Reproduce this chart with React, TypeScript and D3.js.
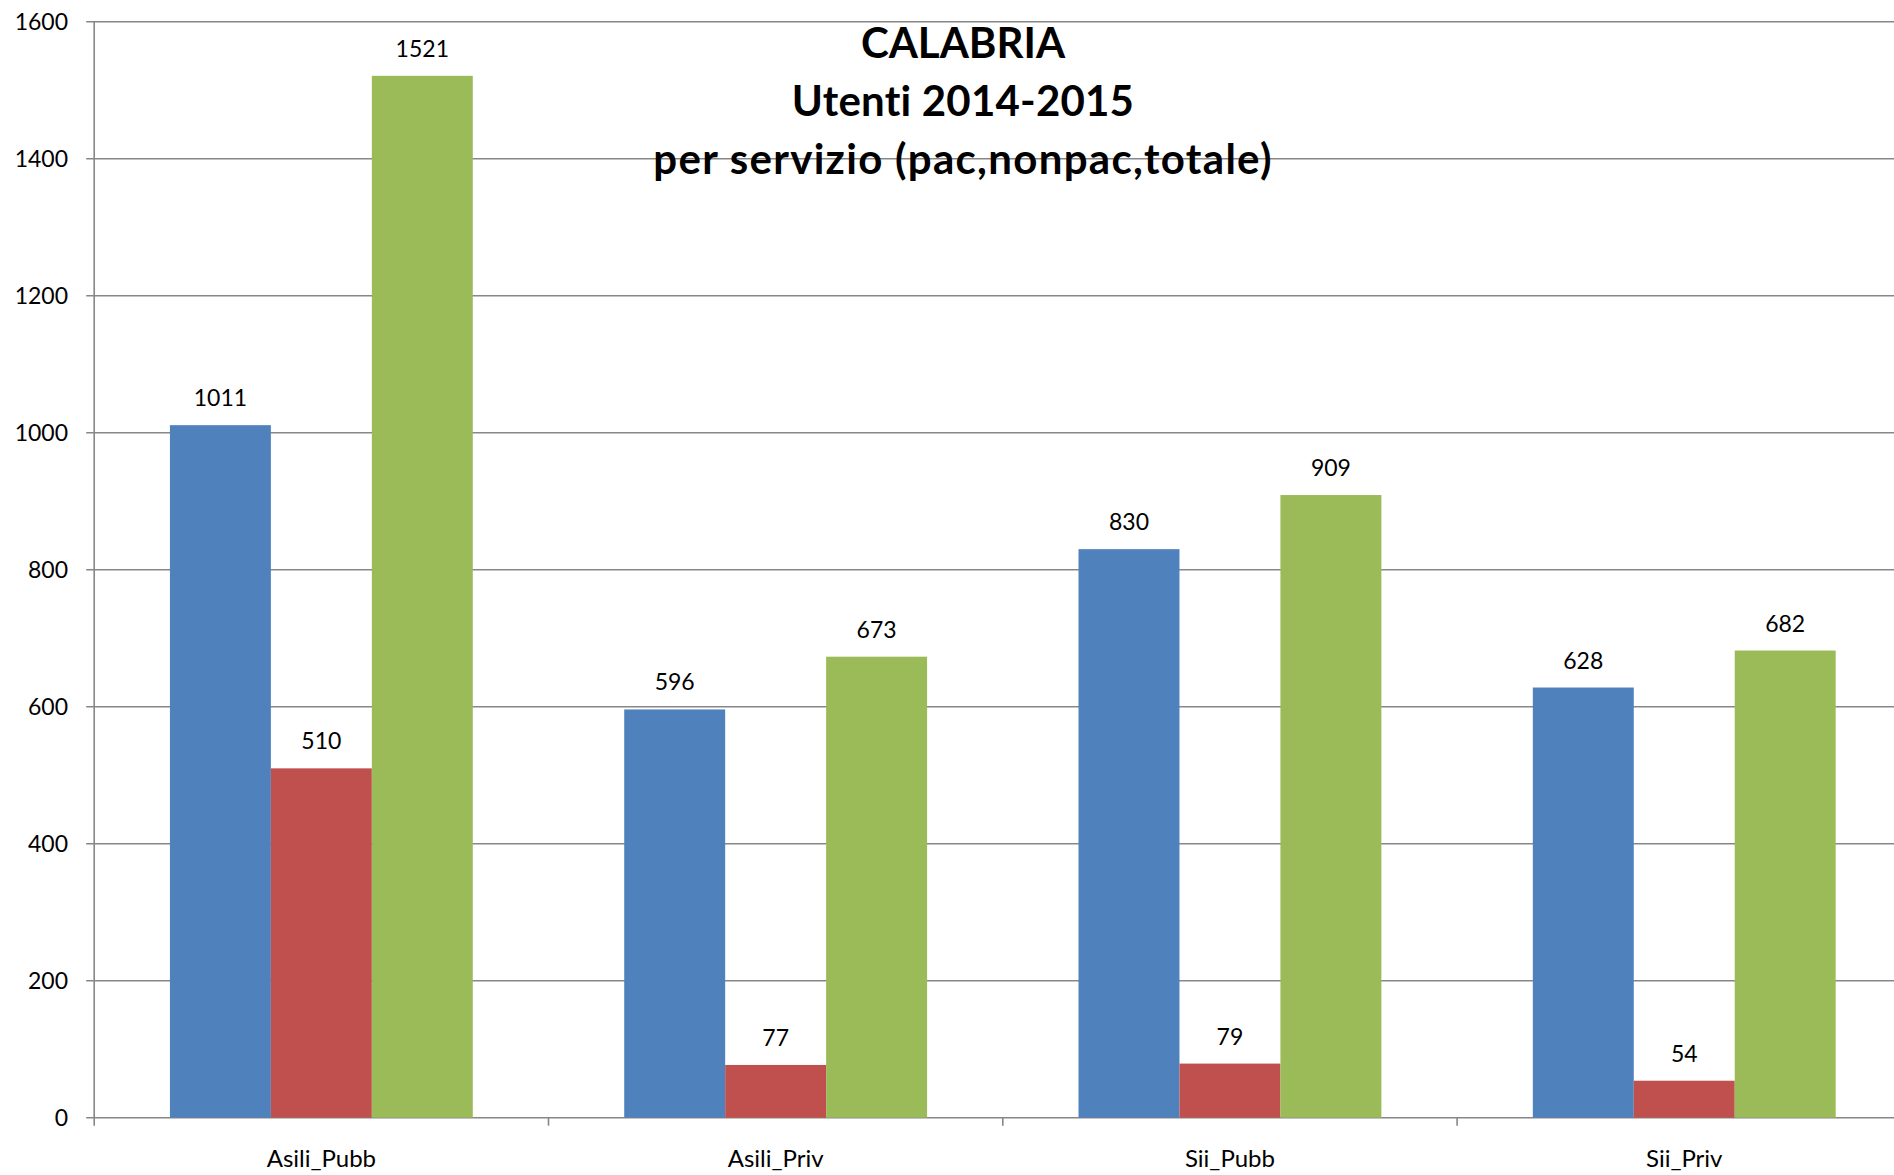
import React from "react";
import * as d3 from "d3";

const categories = ["Asili_Pubb", "Asili_Priv", "Sii_Pubb", "Sii_Priv"];
const seriesNames = ["pac", "nonpac", "totale"];
const pacValues = [1011, 596, 830, 628];
const nonpacValues = [510, 77, 79, 54];
const totaleValues = [1521, 673, 909, 682];
const yTicks = [0, 200, 400, 600, 800, 1000, 1200, 1400, 1600];
const titleLines = ["CALABRIA", "Utenti 2014-2015", "per servizio (pac,nonpac,totale)"];
const colors = ["#4F81BD", "#C0504D", "#9BBB59"];

export default function App() {
  const W = 1894, H = 1175;
  const left = 94.2, top = 21.7, bottom = 1117.7;
  const bandW = 454.3;
  const y = d3.scaleLinear().domain([0, 1600]).range([bottom, top]);
  const x = d3.scaleBand().domain(categories).range([left, left + bandW * categories.length]).padding(0);
  const xs = d3.scaleBand().domain(seriesNames).range([0, x.bandwidth()]).paddingInner(0).paddingOuter(0.75);
  const series = [pacValues, nonpacValues, totaleValues];
  const font = "Lato, 'Open Sans', sans-serif";
  const grid = "#878787";
  const titleSpacing = [0, 0.2, 1.3];
  return (
    <svg width={W} height={H} style={{ position: "absolute", left: 0, top: 0, background: "#fff" }} fontFamily={font}>
      {yTicks.map((t) => (
        <g key={t}>
          <line x1={left - 8} x2={W} y1={y(t)} y2={y(t)} stroke={grid} strokeWidth={1.6} />
          <text x={68} y={y(t)} dy="0.36em" textAnchor="end" fontSize={23} fill="#000">{t}</text>
        </g>
      ))}
      <line x1={left} x2={left} y1={top} y2={bottom} stroke={grid} strokeWidth={1.6} />
      {categories.map((c) => (
        <line key={"tk" + c} x1={x(c)!} x2={x(c)!} y1={bottom} y2={bottom + 8} stroke={grid} strokeWidth={1.6} />
      ))}
      {series.map((vals, si) =>
        vals.map((v, ci) => {
          const cx = x(categories[ci])! + xs(seriesNames[si])!;
          return (
            <g key={si + "-" + ci}>
              <rect x={cx} y={y(v)} width={xs.bandwidth()} height={bottom - y(v)} fill={colors[si]} />
              <text x={cx + xs.bandwidth() / 2} y={y(v) - 19} textAnchor="middle" fontSize={23} fill="#000">{v}</text>
            </g>
          );
        })
      )}
      {categories.map((c) => (
        <text key={"lb" + c} x={x(c)! + x.bandwidth() / 2} y={1167} textAnchor="middle" fontSize={24} fill="#000">{c}</text>
      ))}
      {titleLines.map((t, i) => (
        <text key={t} x={963} y={58 + i * 58} textAnchor="middle" fontSize={42} fontWeight="bold" letterSpacing={titleSpacing[i]} fill="#000">{t}</text>
      ))}
    </svg>
  );
}
